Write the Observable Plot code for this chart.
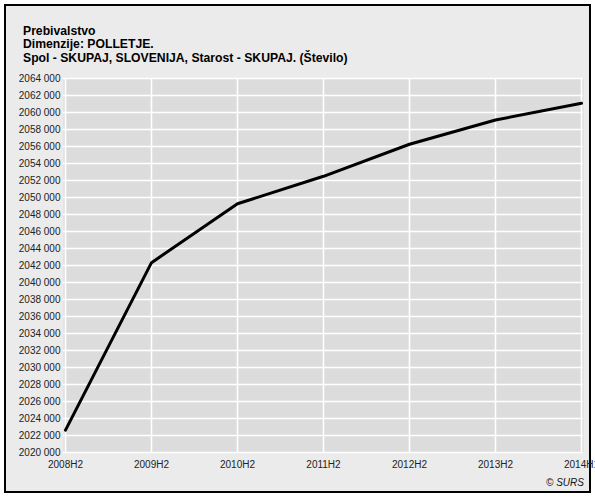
<!DOCTYPE html>
<html><head><meta charset="utf-8">
<script src="https://cdn.jsdelivr.net/npm/d3@7"></script>
<script src="https://cdn.jsdelivr.net/npm/@observablehq/plot@0.6"></script>
<style>
body{margin:0;background:#fff;}
#wrap{position:relative;width:595px;height:497px;overflow:hidden;font-family:"Liberation Sans",Arial,sans-serif;}
#frame{position:absolute;left:4px;top:4px;width:583px;height:485px;border:2px solid #000;background:#ebebeb;}
#title{position:absolute;left:23px;top:25px;font-weight:bold;font-size:12.2px;line-height:13.3px;color:#000;white-space:nowrap;}
#credit{position:absolute;left:546px;top:477px;font-style:italic;font-size:10px;color:#111;}
#chart{position:absolute;left:0;top:0;}
</style></head>
<body>
<div id="wrap">
  <div id="frame"></div>
  <div id="chart"></div>
  <div id="title">Prebivalstvo<br>Dimenzije: POLLETJE.<br>Spol - SKUPAJ, SLOVENIJA, Starost - SKUPAJ. (Število)</div>
  <div id="credit">© SURS</div>
</div>
<script>
const periods = ["2008H2","2009H2","2010H2","2011H2","2012H2","2013H2","2014H1"];
const population = [2022629, 2042335, 2049261, 2052496, 2056262, 2059114, 2061085];
const yTicks = [2020000,2022000,2024000,2026000,2028000,2030000,2032000,2034000,2036000,2038000,2040000,2042000,2044000,2046000,2048000,2050000,2052000,2054000,2056000,2058000,2060000,2062000,2064000];

const data = periods.map((p, i) => ({period: p, value: population[i]}));
const fmt = d => Math.floor(d / 1000) + " " + String(d % 1000).padStart(3, "0");

const chart = Plot.plot({
  width: 595,
  height: 497,
  marginLeft: 63,
  marginRight: 12,
  marginTop: 78,
  marginBottom: 45,
  style: {background: "transparent", fontFamily: "Liberation Sans, Arial, sans-serif", fontSize: "10px", color: "#222", overflow: "visible"},
  x: {type: "point", domain: periods, padding: 0, label: null},
  y: {domain: [2020000, 2064000], label: null},
  marks: [
    Plot.frame({fill: "#dcdcdc", stroke: null}),
    Plot.ruleY(yTicks, {stroke: "#fff", strokeWidth: 1.6}),
    Plot.ruleX(periods, {stroke: "#fff", strokeWidth: 1.6}),
    Plot.axisY({ticks: yTicks, tickFormat: fmt, tickSize: 0, tickPadding: 3, fill: "#222"}),
    Plot.axisX({tickSize: 0, tickPadding: 8, fill: "#222"}),
    Plot.line(data, {x: "period", y: "value", stroke: "#000", strokeWidth: 3})
  ]
});
document.getElementById("chart").appendChild(chart);
</script>
</body></html>
